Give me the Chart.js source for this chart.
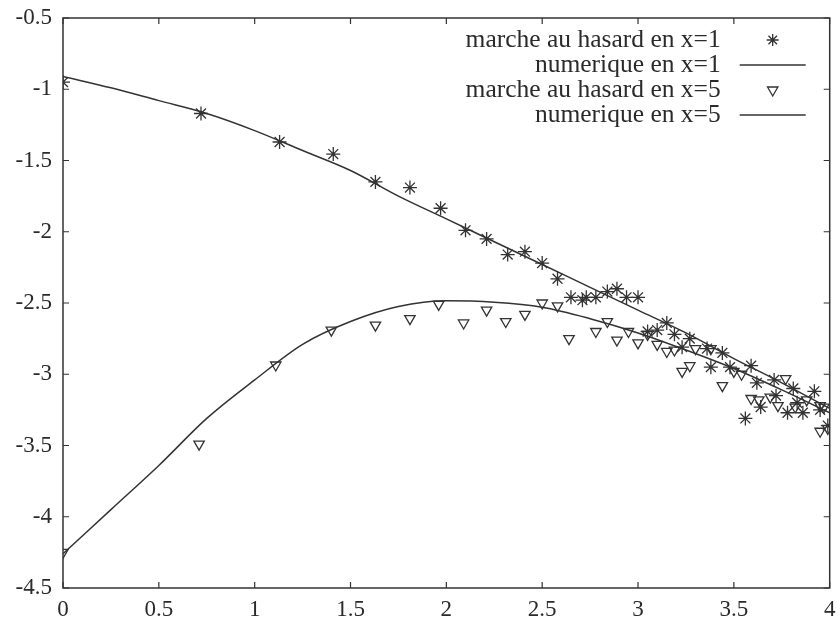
<!DOCTYPE html>
<html>
<head>
<meta charset="utf-8">
<script src="https://cdn.jsdelivr.net/npm/chart.js"></script>
<style>
  html, body { margin: 0; padding: 0; background: #fff; }
  canvas { display: block; }
</style>
</head>
<body>
<canvas id="chart" width="838" height="627"></canvas>
<script>
'use strict';

// abscisses du calcul numerique
const numX = [0, 0.25, 0.5, 0.75, 1, 1.25, 1.5, 1.75, 2, 2.25, 2.5, 2.75, 3, 3.25, 3.5, 3.75, 4];
// solution numerique en x=1
const num1 = [-0.91, -0.99, -1.08, -1.17, -1.29, -1.43, -1.57, -1.75, -1.91, -2.07, -2.23, -2.39, -2.55, -2.71, -2.89, -3.06, -3.24];
// solution numerique en x=5
const num5 = [-4.26, -3.95, -3.64, -3.31, -3.04, -2.79, -2.63, -2.525, -2.485, -2.495, -2.53, -2.61, -2.71, -2.83, -2.96, -3.11, -3.27];

// marche au hasard en x=1
const walk1X = [0, 0.72, 1.13, 1.41, 1.63, 1.81, 1.97, 2.10, 2.21, 2.32, 2.41, 2.50, 2.58, 2.65, 2.71, 2.73,
    2.78, 2.84, 2.89, 2.94, 3.00, 3.05, 3.10, 3.15, 3.19, 3.23, 3.27, 3.36, 3.38, 3.44, 3.48, 3.56,
    3.59, 3.62, 3.64, 3.71, 3.72, 3.78, 3.81, 3.83, 3.86, 3.92, 3.95, 3.99];
const walk1Y = [-0.95, -1.17, -1.37, -1.455, -1.65, -1.69, -1.835, -1.99, -2.05, -2.16, -2.14, -2.22, -2.33, -2.46, -2.48, -2.46,
    -2.46, -2.42, -2.40, -2.46, -2.46, -2.70, -2.69, -2.64, -2.72, -2.81, -2.75, -2.82, -2.95, -2.85, -2.95, -3.31,
    -2.94, -3.06, -3.23, -3.04, -3.15, -3.27, -3.10, -3.20, -3.27, -3.12, -3.25, -3.36];

// marche au hasard en x=5
const walk5X = [0, 0.71, 1.11, 1.40, 1.63, 1.81, 1.96, 2.09, 2.21, 2.31, 2.41, 2.50, 2.58, 2.64, 2.78, 2.84,
    2.89, 2.95, 3.00, 3.05, 3.10, 3.15, 3.19, 3.23, 3.27, 3.30, 3.38, 3.44, 3.50, 3.54, 3.59, 3.63,
    3.69, 3.73, 3.77, 3.82, 3.88, 3.95, 3.95, 3.97, 3.99];
const walk5Y = [-4.25, -3.49, -2.935, -2.69, -2.655, -2.61, -2.51, -2.64, -2.55, -2.63, -2.58, -2.50, -2.52, -2.75, -2.70, -2.63,
    -2.76, -2.70, -2.78, -2.72, -2.79, -2.84, -2.83, -2.98, -2.94, -2.82, -2.82, -3.08, -2.98, -3.00, -3.17, -3.18,
    -3.16, -3.22, -3.03, -3.23, -3.18, -3.22, -3.40, -3.23, -3.38];

const legendLabels = ['marche au hasard en x=1', 'numerique en x=1', 'marche au hasard en x=5', 'numerique en x=5'];

const INK = '#333333';
const FONT = '"Liberation Serif", "Times New Roman", serif';

function pairs(xs, ys) {
    return xs.map((x, i) => ({ x: x, y: ys[i] }));
}

function drawStar(ctx, x, y, r) {
    ctx.beginPath();
    ctx.moveTo(x - r, y); ctx.lineTo(x + r, y);
    ctx.moveTo(x, y - r); ctx.lineTo(x, y + r);
    const d = r * 0.7071;
    ctx.moveTo(x - d, y - d); ctx.lineTo(x + d, y + d);
    ctx.moveTo(x - d, y + d); ctx.lineTo(x + d, y - d);
    ctx.stroke();
}

function drawTriangleDown(ctx, x, y, r) {
    ctx.beginPath();
    ctx.moveTo(x - r * 0.866, y - r * 0.5);
    ctx.lineTo(x + r * 0.866, y - r * 0.5);
    ctx.lineTo(x, y + r);
    ctx.closePath();
    ctx.stroke();
}

// cadre, graduations interieures (style gnuplot) et legende
const framePlugin = {
    id: 'frame',
    afterDraw(chart) {
        const ctx = chart.ctx;
        const a = chart.chartArea;
        const xs = chart.scales.x, ys = chart.scales.y;
        const tl = 6;
        ctx.save();
        ctx.strokeStyle = INK;
        ctx.lineWidth = 1.5;
        ctx.strokeRect(a.left, a.top, a.right - a.left, a.bottom - a.top);

        ctx.lineWidth = 1.2;
        ctx.beginPath();
        for (const t of xs.ticks) {
            const px = xs.getPixelForValue(t.value);
            ctx.moveTo(px, a.bottom); ctx.lineTo(px, a.bottom - tl);
            ctx.moveTo(px, a.top); ctx.lineTo(px, a.top + tl);
        }
        for (const t of ys.ticks) {
            const py = ys.getPixelForValue(t.value);
            ctx.moveTo(a.left, py); ctx.lineTo(a.left + tl, py);
            ctx.moveTo(a.right, py); ctx.lineTo(a.right - tl, py);
        }
        ctx.stroke();

        // legende
        const textRight = a.right - 109;
        const sampleL = a.right - 90, sampleR = a.right - 24;
        const sampleC = (sampleL + sampleR) / 2;
        ctx.font = '25.5px ' + FONT;
        ctx.fillStyle = '#2a2a2a';
        ctx.textAlign = 'right';
        ctx.textBaseline = 'middle';
        legendLabels.forEach((label, i) => {
            const y = a.top + 22 + i * 25;
            ctx.fillText(label, textRight, y);
            ctx.lineWidth = 1.3;
            if (i === 0) {
                drawStar(ctx, sampleC, y, 6);
            } else if (i === 2) {
                drawTriangleDown(ctx, sampleC, y, 6);
            } else {
                ctx.beginPath();
                ctx.moveTo(sampleL, y); ctx.lineTo(sampleR, y);
                ctx.stroke();
            }
        });
        ctx.restore();
    }
};

const tickText = (v) => String(Math.round(v * 10) / 10);

const ctx = document.getElementById('chart').getContext('2d');

new Chart(ctx, {
    type: 'scatter',
    data: {
        datasets: [{
            label: legendLabels[0],
            data: pairs(walk1X, walk1Y),
            pointStyle: 'star',
            pointRadius: 7,
            borderColor: INK,
            backgroundColor: INK,
            pointBorderWidth: 1.3,
            showLine: false
        }, {
            label: legendLabels[1],
            data: pairs(numX, num1),
            showLine: true,
            borderColor: INK,
            borderWidth: 1.5,
            pointRadius: 0,
            cubicInterpolationMode: 'monotone',
            fill: false
        }, {
            label: legendLabels[2],
            data: pairs(walk5X, walk5Y),
            pointStyle: 'triangle',
            rotation: 180,
            pointRadius: 6,
            borderColor: INK,
            backgroundColor: 'rgba(255,255,255,0)',
            pointBorderWidth: 1.3,
            showLine: false
        }, {
            label: legendLabels[3],
            data: pairs(numX, num5),
            showLine: true,
            borderColor: INK,
            borderWidth: 1.5,
            pointRadius: 0,
            cubicInterpolationMode: 'monotone',
            fill: false
        }]
    },
    options: {
        responsive: false,
        animation: false,
        layout: { padding: { top: 18, right: 6, left: 0, bottom: 0 } },
        plugins: {
            legend: { display: false },
            tooltip: { enabled: false }
        },
        scales: {
            x: {
                type: 'linear',
                min: 0,
                max: 4,
                afterFit(scale) {
                    scale.height = 39;
                    scale.paddingLeft = 0;
                    scale.paddingRight = 0;
                },
                grid: { display: false, drawTicks: false },
                border: { display: false },
                ticks: {
                    stepSize: 0.5,
                    padding: 8,
                    color: '#2a2a2a',
                    font: { family: FONT, size: 23 },
                    maxRotation: 0,
                    autoSkip: false,
                    callback: tickText
                }
            },
            y: {
                type: 'linear',
                min: -4.5,
                max: -0.5,
                afterFit(scale) {
                    scale.width = 63;
                    scale.paddingTop = 0;
                    scale.paddingBottom = 0;
                },
                grid: { display: false, drawTicks: false },
                border: { display: false },
                ticks: {
                    stepSize: 0.5,
                    padding: 11,
                    color: '#2a2a2a',
                    font: { family: FONT, size: 23 },
                    callback: tickText
                }
            }
        }
    },
    plugins: [framePlugin]
});
</script>
</body>
</html>
